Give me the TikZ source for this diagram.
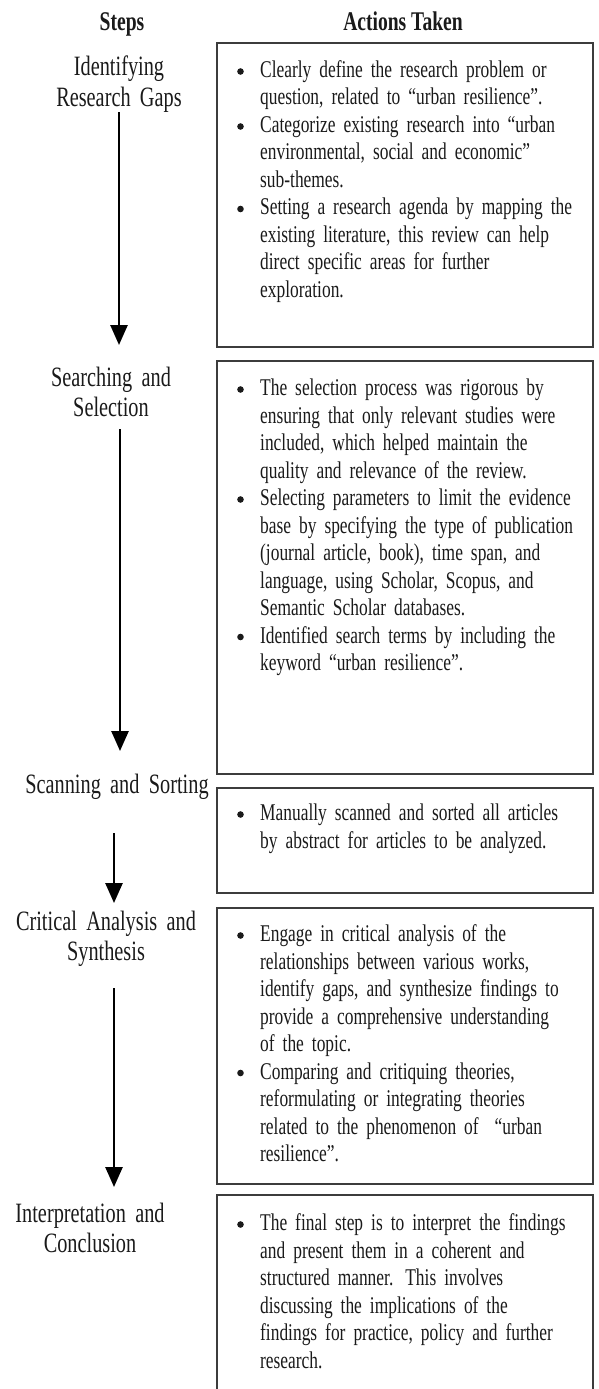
\documentclass[tikz,border=0pt]{standalone}
\usepackage{fontspec}
\setmainfont{Liberation Serif}[FakeStretch=0.725]
\usepackage{xcolor}
\usepackage{tikz}
\usetikzlibrary{arrows.meta, positioning}
\definecolor{myborder}{HTML}{3C3C3C}
\definecolor{mytext}{HTML}{1A1A1A}
\newcommand{\actbullet}{\tikz[baseline=-6pt]\fill[mytext] (0,0) circle (3.3pt);}
\newcommand{\actitem}[1]{\hangindent=24pt\hangafter=1\noindent\makebox[24pt][l]{\hspace{1pt}\actbullet}#1\par}
\tikzset{
actionbox/.style={
draw=myborder,
line width=2.4pt,
rectangle,
anchor=north west,
minimum width=376pt,
inner sep=0pt
},
actiontext/.style={
anchor=base west,
text width=360pt,
align=left,
inner sep=0pt,
font=\fontsize{24}{27.5}\selectfont,
text=mytext
},
steplabel/.style={
anchor=base,
text width=220pt,
align=center,
inner sep=0pt,
font=\fontsize{28}{30}\selectfont,
text=mytext
},
header/.style={
anchor=base,
inner sep=0pt,
font=\bfseries\fontsize{27}{30}\selectfont,
text=mytext
},
flowarrow/.style={
-{Triangle[length=20pt,width=17pt]},
line width=2.6pt,
draw=black
}
}

\begin{document}
\begin{tikzpicture}[x=1pt, y=-1pt]
\useasboundingbox (0,0) rectangle (598,1389);
\clip (0,0) rectangle (598,1389);

\node[header] (hsteps) at (122,31) {Steps};
\node[header] (hactions) at (403,31) {Actions Taken};

% boxes on the right
\node[actionbox, minimum height=304pt] (box1) at (216,42) {};
\node[actionbox, minimum height=413pt] (box2) at (216,360) {};
\node[actionbox, minimum height=105pt] (box3) at (216,787) {};
\node[actionbox, minimum height=276pt] (box4) at (216,907) {};
\node[actionbox, minimum height=206pt] (box5) at (216,1194) {};

\node[actiontext] (act1) at ([xshift=20pt, yshift=-35.5pt]box1.north west) {%
\actitem{Clearly define the research problem or\newline question, related to “urban resilience”.}
\actitem{Categorize existing research into “urban\newline environmental, social and economic”\newline sub-themes.}
\actitem{Setting a research agenda by mapping the\newline existing literature, this review can help\newline direct specific areas for further\newline exploration.}};
\node[actiontext] (act2) at ([xshift=20pt, yshift=-35.5pt]box2.north west) {%
\actitem{The selection process was rigorous by\newline ensuring that only relevant studies were\newline included, which helped maintain the\newline quality and relevance of the review.}
\actitem{Selecting parameters to limit the evidence\newline base by specifying the type of publication\newline (journal article, book), time span, and\newline language, using Scholar, Scopus, and\newline Semantic Scholar databases.}
\actitem{Identified search terms by including the\newline keyword “urban resilience”.}};
\node[actiontext] (act3) at ([xshift=20pt, yshift=-33.5pt]box3.north west) {%
\actitem{Manually scanned and sorted all articles\newline by abstract for articles to be analyzed.}};
\node[actiontext] (act4) at ([xshift=20pt, yshift=-34.5pt]box4.north west) {%
\actitem{Engage in critical analysis of the\newline relationships between various works,\newline identify gaps, and synthesize findings to\newline provide a comprehensive understanding\newline of the topic.}
\actitem{Comparing and critiquing theories,\newline reformulating or integrating theories\newline related to the phenomenon of~ “urban\newline resilience”.}};
\node[actiontext] (act5) at ([xshift=20pt, yshift=-36.5pt]box5.north west) {%
\actitem{The final step is to interpret the findings\newline and present them in a coherent and\newline structured manner. This involves\newline discussing the implications of the\newline findings for practice, policy and further\newline research.}};

% steps on the left
\node[steplabel] (gaps) at (119,76) {Identifying\\Research Gaps};
\node[steplabel] (search) at (111,386) {Searching and\\Selection};
\node[steplabel] (scan) at (117,793) {Scanning and Sorting};
\node[steplabel] (crit) at (106,930) {Critical Analysis and\\Synthesis};
\node[steplabel] (interp) at (90,1222) {Interpretation and\\Conclusion};

\coordinate (a1s) at (119,112);
\coordinate (a1e) at (119,345);
\coordinate (a2s) at (120,429);
\coordinate (a2e) at (120,751);
\coordinate (a3s) at (114,833);
\coordinate (a3e) at (114,903);
\coordinate (a4s) at (114,988);
\coordinate (a4e) at (114,1187);
\foreach \s/\e in {a1s/a1e, a2s/a2e, a3s/a3e, a4s/a4e} {
  \draw[flowarrow] (\s) -- (\e);
}

\end{tikzpicture}
\end{document}
